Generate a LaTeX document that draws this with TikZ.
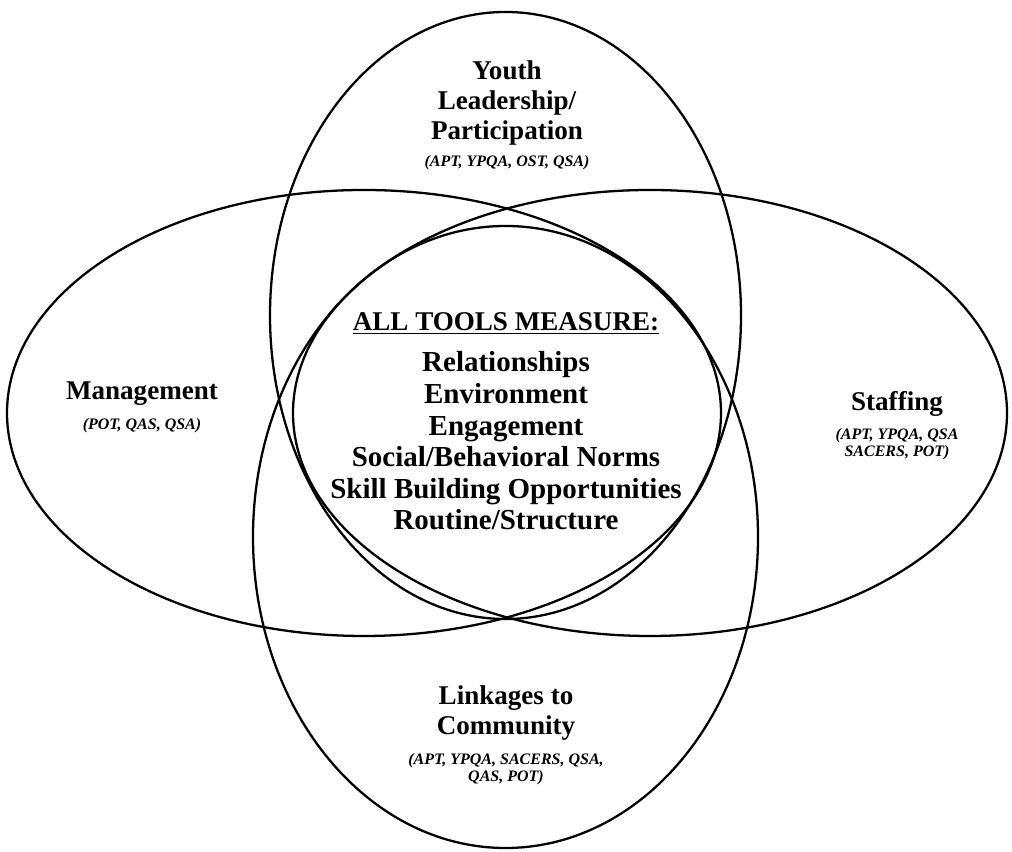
\documentclass[tikz,border=0pt]{standalone}
\usepackage{fontspec}
\setmainfont{Liberation Serif}

\begin{document}
\begin{tikzpicture}[
  ring/.style={line width=1.3pt},
  area/.style={font=\bfseries\fontsize{15.4}{17.1}\selectfont, align=center},
  tools/.style={font=\bfseries\itshape\fontsize{9.1}{9.3}\selectfont, align=center},
  item/.style={font=\bfseries\fontsize{16.5}{18}\selectfont, anchor=base}
 ]
 \useasboundingbox (0,0) rectangle (20.24,17.04);

 % ellipses
 \draw[ring] (7.28,8.78) ellipse (7.14 and 4.46);
 \draw[ring] (13.00,8.78) ellipse (7.14 and 4.46);
 \draw[ring] (10.11,10.73) ellipse (4.71 and 6.07);
 \draw[ring] (10.11,6.30) ellipse (5.05 and 6.22);

 % areas
 \node (youth) [area] at (10.14,14.98) {Youth\\Leadership/\\Participation};
 \node (youthT) [tools] at (10.14,13.78) {(APT, YPQA, OST, QSA)};
 \node (mgmt) [area] at (2.84,9.17) {Management};
 \node (mgmtT) [tools] at (2.84,8.52) {(POT, QAS, QSA)};
 \node (staff) [area] at (17.94,8.97) {Staffing};
 \node (staffT) [tools] at (17.94,8.16) {(APT, YPQA, QSA\\SACERS, POT)};
 \node (link) [area] at (10.12,2.78) {Linkages to\\Community};
 \node (linkT) [tools] at (10.12,1.66) {(APT, YPQA, SACERS, QSA,\\QAS, POT)};

 % centre
 \node (all) [item, font=\bfseries\fontsize{15.4}{18}\selectfont] at (10.12,10.42) {\underline{ALL TOOLS MEASURE:}};
 \foreach \t [count=\i from 0] in {Relationships, Environment, Engagement,
   Social/Behavioral Norms, Skill Building Opportunities, Routine/Structure} {
  \node (m\i) [item] at (10.12,9.60-0.632*\i) {\t};
 }
\end{tikzpicture}
\end{document}
